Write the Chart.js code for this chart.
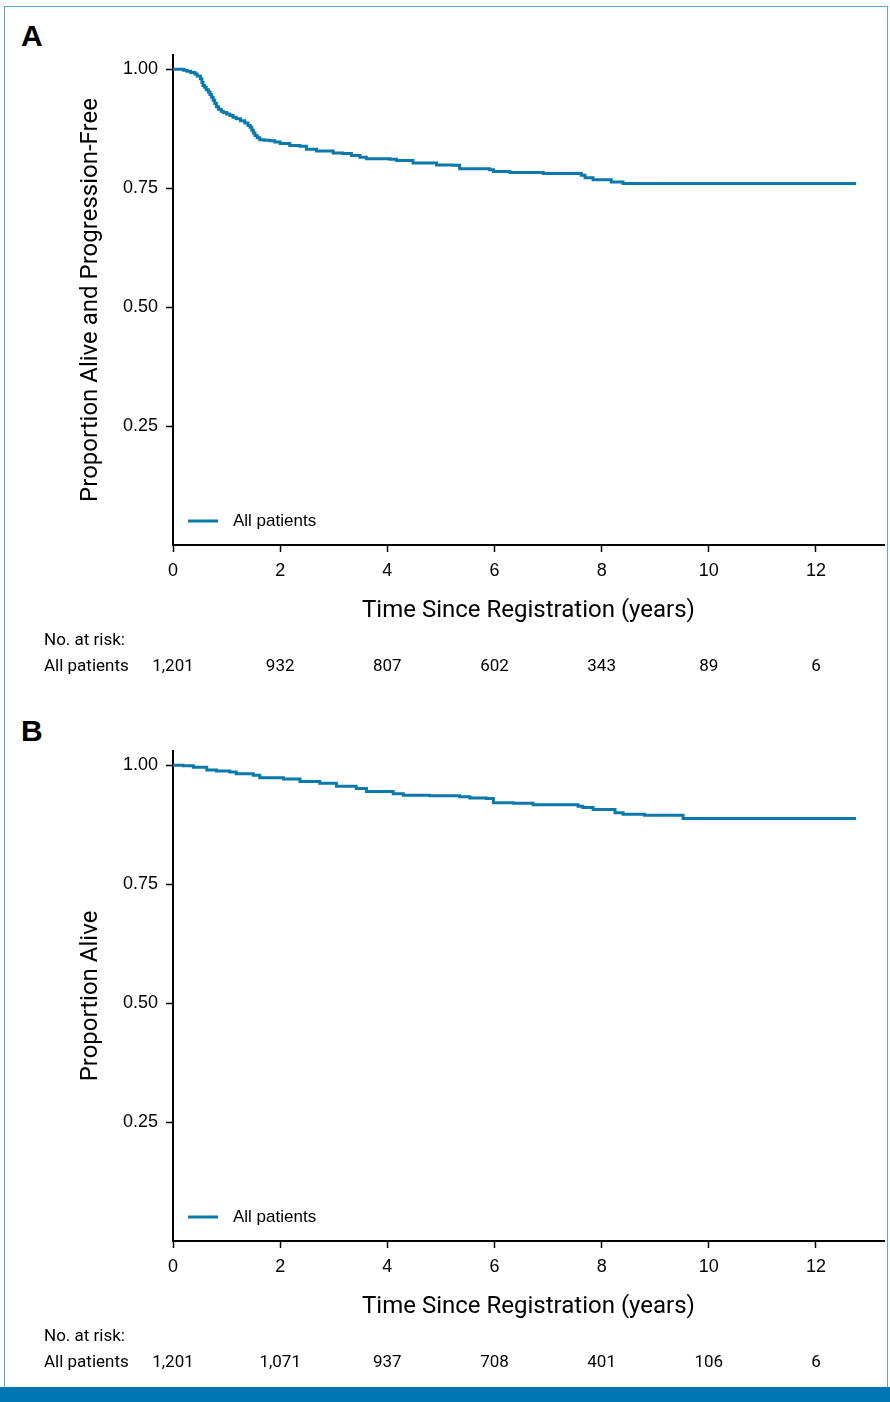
<!DOCTYPE html>
<html lang="en">
<head>
<meta charset="UTF-8">
<script src="https://cdn.jsdelivr.net/npm/chart.js@4.4.0/dist/chart.umd.min.js"></script>
<title>Survival curves, all patients</title>
<style>
  body { margin: 0; background: #fff; width: 890px; height: 1402px; position: relative; overflow: hidden; }
  .frame { position: absolute; left: 4px; top: 6px; width: 884px; height: 1390px; border: 1px solid #5aa8d2; box-sizing: border-box; }
  .bar { position: absolute; left: 0; top: 1387px; width: 890px; height: 15px; background: #0077b3; }
  .tag { position: absolute; left: 21px; font: bold 30px 'Liberation Sans', Arial, sans-serif; color: #000; }
  canvas { position: absolute; left: 0; }
</style>
</head>
<body>
<div class="frame"></div>
<div class="tag" style="top:19px">A</div>
<div class="tag" style="top:714px">B</div>
<canvas id="chartA" width="890" height="696" style="top:0"></canvas>
<canvas id="chartB" width="890" height="696" style="top:696px"></canvas>
<div class="bar"></div>

<script>
// axis ticks
const xTicks = [0, 2, 4, 6, 8, 10, 12];
const yTicks = [0.25, 0.50, 0.75, 1.00];

// panel A: progression-free survival
const timeA = [0, 0.16, 0.20, 0.26, 0.33, 0.41, 0.45, 0.51, 0.54, 0.56, 0.59, 0.62, 0.66, 0.69, 0.72, 0.75, 0.78, 0.81, 0.85, 0.90,
               0.94, 1.00, 1.06, 1.12, 1.18, 1.26, 1.34, 1.40, 1.44, 1.47, 1.50, 1.53, 1.57, 1.62, 1.70, 1.81, 1.90, 2.00,
               2.18, 2.37, 2.49, 2.68, 2.99, 3.17, 3.33, 3.49, 3.61, 4.05, 4.17, 4.48, 4.92, 5.22, 5.35, 5.91, 5.98,
               6.29, 6.91, 7.62, 7.69, 7.84, 8.18, 8.40, 12.75];
const survA = [1.000, 1.000, 0.998, 0.996, 0.993, 0.990, 0.986, 0.980, 0.972, 0.966, 0.962, 0.957, 0.952, 0.947, 0.941, 0.935, 0.928, 0.921, 0.916, 0.912,
               0.909, 0.906, 0.903, 0.899, 0.896, 0.892, 0.887, 0.882, 0.878, 0.872, 0.866, 0.861, 0.856, 0.852, 0.851, 0.850, 0.847, 0.844,
               0.840, 0.838, 0.832, 0.828, 0.824, 0.823, 0.819, 0.815, 0.812, 0.811, 0.808, 0.803, 0.799, 0.798, 0.791, 0.789, 0.785,
               0.783, 0.781, 0.777, 0.772, 0.768, 0.763, 0.760, 0.760];
const riskA = ['1,201', '932', '807', '602', '343', '89', '6'];

// panel B: overall survival
const timeB = [0, 0.19, 0.38, 0.63, 0.81, 1.06, 1.18, 1.50, 1.62, 2.06, 2.37, 2.74, 3.05, 3.42, 3.61, 4.11, 4.30, 4.79, 5.35, 5.54,
               5.85, 5.98, 6.35, 6.72, 7.56, 7.65, 7.84, 8.25, 8.40, 8.80, 9.52, 12.75];
const survB = [1.000, 0.999, 0.996, 0.990, 0.988, 0.986, 0.982, 0.979, 0.974, 0.971, 0.966, 0.962, 0.956, 0.951, 0.945, 0.940, 0.937, 0.936, 0.934, 0.931,
               0.930, 0.921, 0.920, 0.917, 0.914, 0.911, 0.907, 0.900, 0.897, 0.895, 0.888, 0.888];
const riskB = ['1,201', '1,071', '937', '708', '401', '106', '6'];

const seriesLabel = 'All patients';
const xTitle = 'Time Since Registration (years)';
const yTitleA = 'Proportion Alive and Progression-Free';
const yTitleB = 'Proportion Alive';

const lineColor = '#0b79aa';
const tickFont = { family: "'Liberation Sans', Arial, sans-serif", size: 18 };
const titleFont = { family: "Roboto, sans-serif", size: 24 };
const smallFont = "17px Roboto, sans-serif";

// legend inside the plot + number-at-risk table under the x axis
const extras = {
  id: 'extras',
  afterDraw(chart, args, opts) {
    const ctx = chart.ctx, area = chart.chartArea, xs = chart.scales.x;
    ctx.save();
    // legend
    const ly = area.bottom - 24;
    ctx.strokeStyle = lineColor;
    ctx.lineWidth = 3;
    ctx.beginPath();
    ctx.moveTo(area.left + 15, ly);
    ctx.lineTo(area.left + 45, ly);
    ctx.stroke();
    ctx.fillStyle = '#000';
    ctx.font = "17px 'Liberation Sans', Arial, sans-serif";
    ctx.textBaseline = 'middle';
    ctx.textAlign = 'left';
    ctx.fillText(chart.data.datasets[0].label, area.left + 60, ly);
    // risk table
    ctx.font = smallFont;
    ctx.fillText('No. at risk:', 44, 641);
    ctx.fillText(seriesLabel, 44, 667);
    ctx.textAlign = 'center';
    opts.risk.forEach((r, i) => {
      ctx.fillText(r, xs.getPixelForValue(xTicks[i]), 667);
    });
    ctx.restore();
  }
};

function makeChart(id, times, surv, risk, yTitle) {
  const ctx = document.getElementById(id).getContext('2d');
  return new Chart(ctx, {
    type: 'line',
    data: {
      datasets: [{
        label: seriesLabel,
        data: times.map((t, i) => ({ x: t, y: surv[i] })),
        borderColor: lineColor,
        borderWidth: 3,
        pointRadius: 0,
        stepped: 'before',
        fill: false
      }]
    },
    options: {
      responsive: false,
      animation: false,
      layout: { padding: { left: 0, top: 55, right: 6, bottom: 0 } },
      plugins: {
        legend: { display: false },
        tooltip: { enabled: false },
        extras: { risk: risk }
      },
      scales: {
        x: {
          type: 'linear',
          min: 0,
          max: 13.27,
          afterBuildTicks: s => { s.ticks = xTicks.map(v => ({ value: v })); },
          afterFit: s => { s.height = 151; },
          grid: { drawOnChartArea: false, drawTicks: true, tickLength: 7, tickWidth: 1.5, tickColor: '#000' },
          border: { display: true, color: '#000', width: 2 },
          ticks: { color: '#000', font: tickFont, padding: 8, maxRotation: 0, autoSkip: false },
          title: { display: true, text: xTitle, color: '#000', font: titleFont, padding: { top: 0, bottom: 71 } }
        },
        y: {
          min: 0,
          max: 1.03,
          afterBuildTicks: s => { s.ticks = yTicks.map(v => ({ value: v })); },
          afterFit: s => { s.width = 173; },
          grid: { drawOnChartArea: false, drawTicks: true, tickLength: 7, tickWidth: 1.5, tickColor: '#000' },
          border: { display: true, color: '#000', width: 2 },
          ticks: { color: '#000', font: tickFont, padding: 8, callback: v => v.toFixed(2) },
          title: { display: true, text: yTitle, color: '#000', font: titleFont, padding: { top: 77, bottom: 0 } }
        }
      }
    },
    plugins: [extras]
  });
}

makeChart('chartA', timeA, survA, riskA, yTitleA);
makeChart('chartB', timeB, survB, riskB, yTitleB);
</script>
</body>
</html>
